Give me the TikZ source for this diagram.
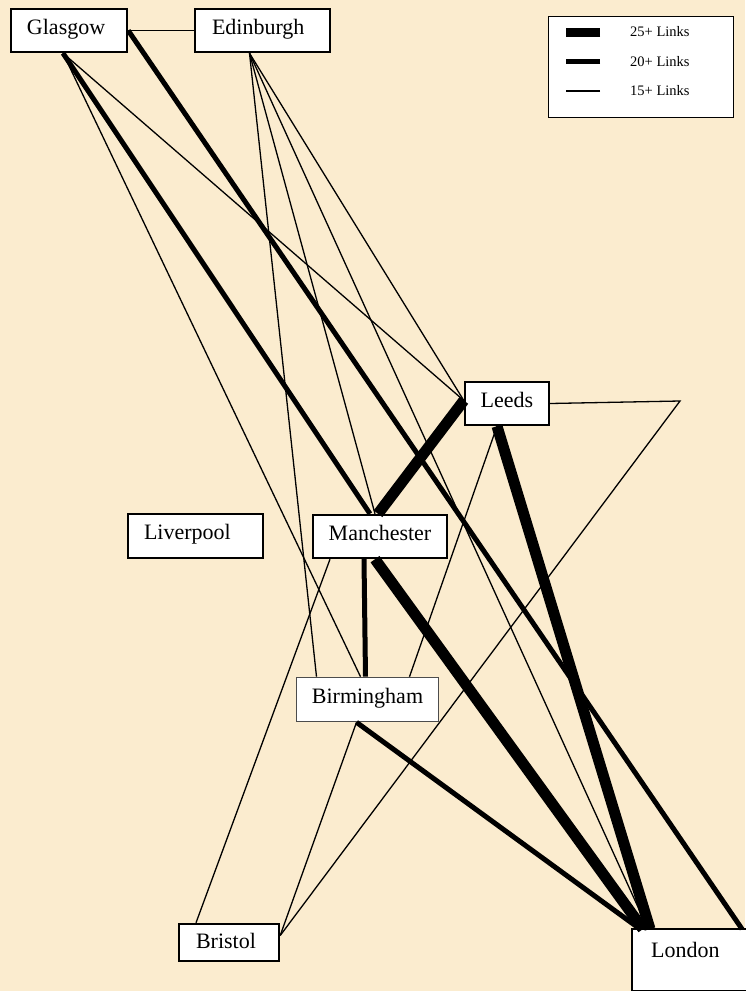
\documentclass[tikz,border=0pt]{standalone}
\usepackage{fontspec}
\setmainfont{Liberation Serif}
\definecolor{parchment}{RGB}{251,236,207}
\begin{document}
\begin{tikzpicture}[x=1pt,y=-1pt,
    city/.style={draw,fill=white,line width=2.4pt,inner sep=0pt,
      font=\fontsize{22}{24}\selectfont,text height=14pt,text depth=7pt},
    keytext/.style={anchor=west,inner sep=0pt,font=\fontsize{14.5}{16}\selectfont},
    lk15/.style={line width=1.3pt},
    lk20/.style={line width=5pt},
    lk25/.style={line width=11pt}]
  \fill[parchment] (0,0) rectangle (745,991);
  \useasboundingbox (0,0) rectangle (745,991);
  % cities
  \node[city,minimum width=116pt,minimum height=43pt,inner xsep=16pt,text width=84pt,align=left] (glasgow) at (69,30.5) {Glasgow};
  \node[city,minimum width=135pt,minimum height=43pt,inner xsep=17pt,text width=101pt,align=left] (edinburgh) at (262.5,30.5) {Edinburgh};
  \node[city,minimum width=84pt,minimum height=43pt] (leeds) at (507,403.5) {Leeds};
  \node[city,minimum width=135pt,minimum height=44pt,inner xsep=16pt,text width=103pt,align=left] (liverpool) at (195.5,536) {Liverpool};
  \node[city,minimum width=134pt,minimum height=43pt] (manchester) at (380,536.5) {Manchester};
  \node[city,draw=black!70,line width=1.6pt,minimum width=142pt,minimum height=44pt] (birmingham) at (367.5,699.5) {Birmingham};
  \node[city,minimum width=100pt,minimum height=37pt,inner xsep=17pt,text width=66pt,align=left,text depth=2pt] (bristol) at (229,942.5) {Bristol};
  \node[city,draw=none,anchor=north west,text width=150pt,inner xsep=18pt,align=left,
    text height=27pt,text depth=33pt] (london) at (632,929) {London};
  \draw[line width=2.4pt] (london.north east) -- (london.north west) -- (london.south west) -- (london.south east);
  % legend
  \node[draw,fill=white,line width=0.8pt,minimum width=185pt,minimum height=101pt] (key) at (641,67) {};
  \node[keytext] (k25) at (630,32) {25+ Links};
  \node[keytext] (k20) at (630,61.5) {20+ Links};
  \node[keytext] (k15) at (630,91) {15+ Links};
  \draw[line width=9pt] ([xshift=-30pt]k25.west) -- ++(-34pt,0);
  \draw[lk20] ([xshift=-30pt]k20.west) -- ++(-34pt,0);
  \draw[lk15] ([xshift=-30pt]k15.west) -- ++(-34pt,0);
  % links
  \draw[lk15] (glasgow.east) -- (edinburgh.west);
  \draw[lk20] (glasgow.east) -- ([xshift=110pt]london.north west);
  \draw[lk20] ([xshift=-6pt]glasgow.south) -- ([xshift=-10pt]manchester.north);
  \draw[lk15] ([xshift=-6pt]glasgow.south) -- ([yshift=3pt]leeds.west);
  \draw[lk15] ([xshift=-6pt]glasgow.south) -- ([xshift=-7pt]birmingham.north);
  \draw[lk15] ([xshift=-13pt]edinburgh.south) -- ([xshift=-51pt]birmingham.north);
  \draw[lk15] ([xshift=-13pt]edinburgh.south) -- ([xshift=-5pt]manchester.north);
  \draw[lk15] ([xshift=-13pt]edinburgh.south) -- ([yshift=3pt]leeds.west);
  \draw[lk15] ([xshift=-13pt]edinburgh.south) -- ([xshift=16pt]london.north west);
  \draw[lk25] ([yshift=3pt]leeds.west) -- ([xshift=-2pt]manchester.north);
  \draw[lk25] ([xshift=-10pt]leeds.south) -- ([xshift=18pt]london.north west);
  \draw[lk15] ([xshift=-10pt]leeds.south) -- ([xshift=42pt]birmingham.north);
  \coordinate (turn) at (680,401);
  \draw[lk15] (leeds.east) -- (turn) -- ([yshift=7pt]bristol.east);
  \draw[lk20] ([xshift=-16pt]manchester.south) -- ([xshift=-2pt]birmingham.north);
  \draw[lk25] ([xshift=-5pt]manchester.south) -- ([xshift=11pt]london.north west);
  \draw[lk15] ([xshift=-50pt]manchester.south) -- ([xshift=-33pt]bristol.north);
  \draw[lk20] ([xshift=-11pt]birmingham.south) -- ([xshift=8pt]london.north west);
  \draw[lk15] ([xshift=-11pt]birmingham.south) -- ([yshift=7pt]bristol.east);
\end{tikzpicture}
\end{document}
